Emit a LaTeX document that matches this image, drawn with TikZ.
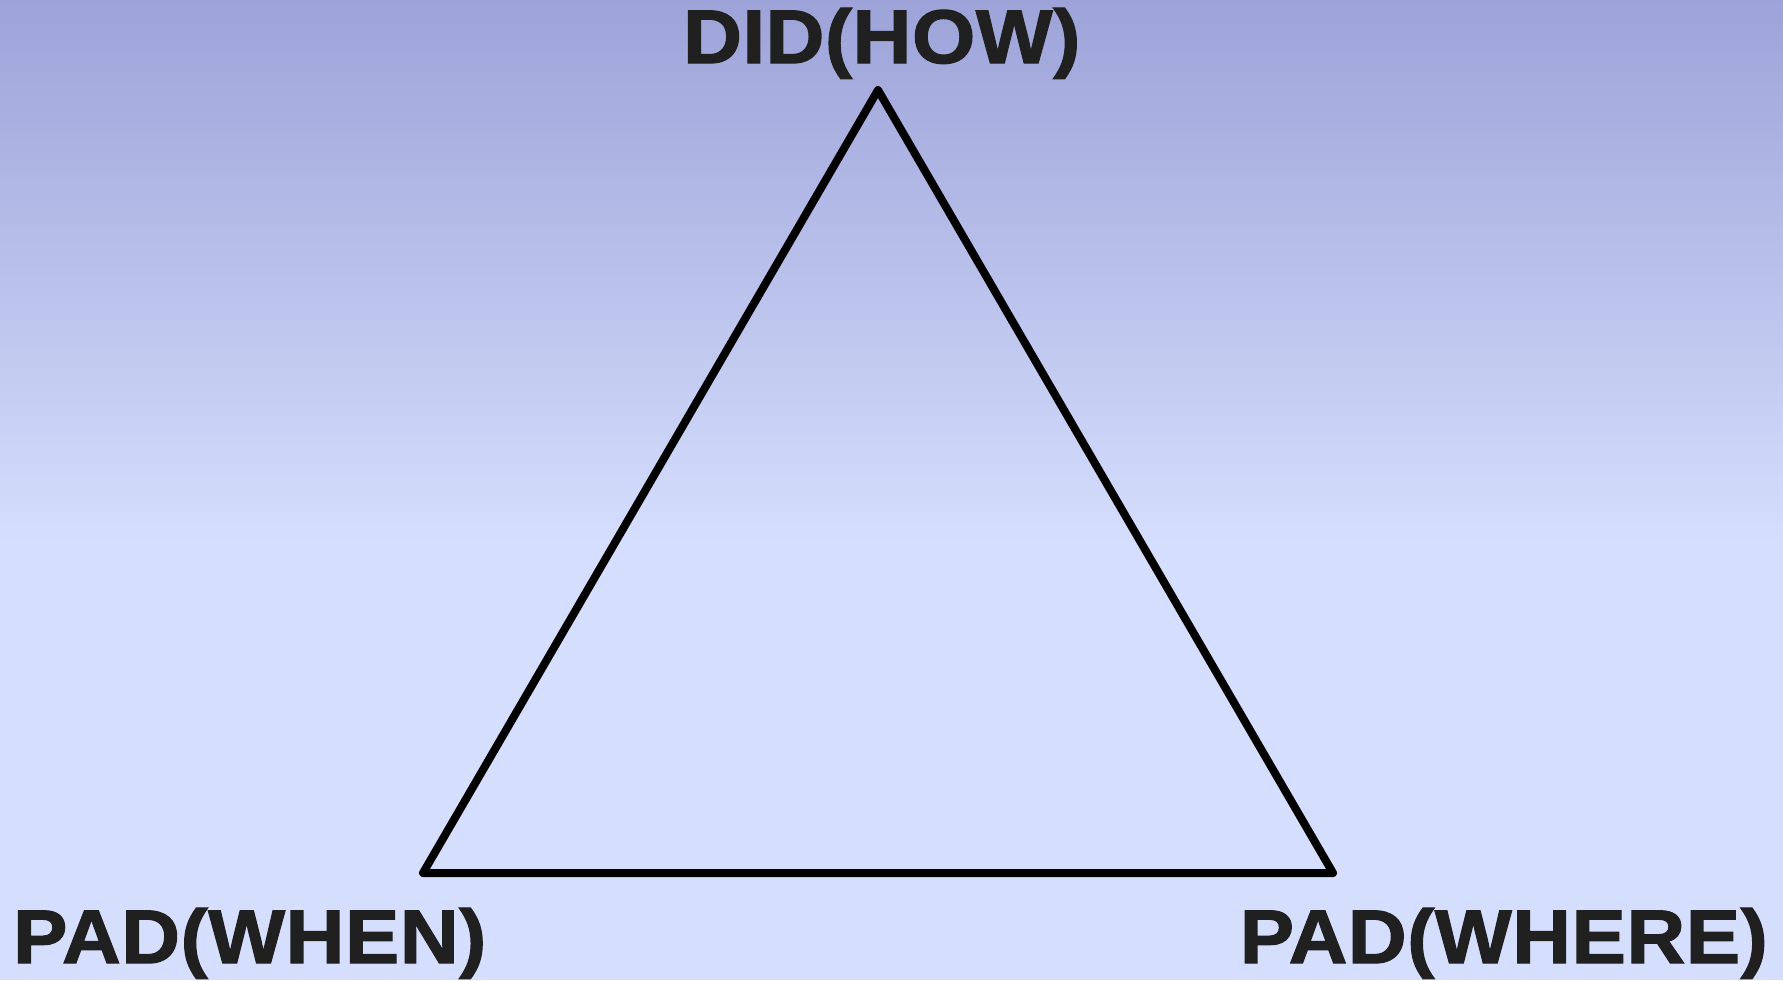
\documentclass[tikz,border=0pt]{standalone}
\usepackage{fontspec}
\newfontfamily\heavyfont[FakeBold=1.7,FakeStretch=1.07,LetterSpace=0.8]{Liberation Sans Bold}
\definecolor{bgtop}{RGB}{157,163,216}
\definecolor{bgmid}{RGB}{213,222,253}
\definecolor{txt}{RGB}{32,32,32}
\tikzset{
  lbl/.style={inner sep=0pt, text=txt, font=\heavyfont\fontsize{76}{80}\selectfont},
  tri/.style={draw=black, line width=8pt, line join=round, line cap=round}
}
\begin{document}
\begin{tikzpicture}[x=1pt,y=-1pt]
\useasboundingbox (0,0) rectangle (1783,980);
\shade[top color=bgtop, bottom color=bgmid] (0,0) rectangle (1783,545);
\fill[bgmid] (0,544) rectangle (1783,980);
\coordinate (top) at (878,90);
\coordinate (bl) at (423,873);
\coordinate (br) at (1333,873);
\draw[tri] (top) -- (bl) -- (br) -- cycle;
\node[lbl, anchor=base west] (how) at (683,63) {DID(HOW)};
\node[lbl, anchor=base west] (when) at (13,963) {PAD(WHEN)};
\node[lbl, anchor=base east] (where) at (1768,963) {PAD(WHERE)};
\end{tikzpicture}
\end{document}
